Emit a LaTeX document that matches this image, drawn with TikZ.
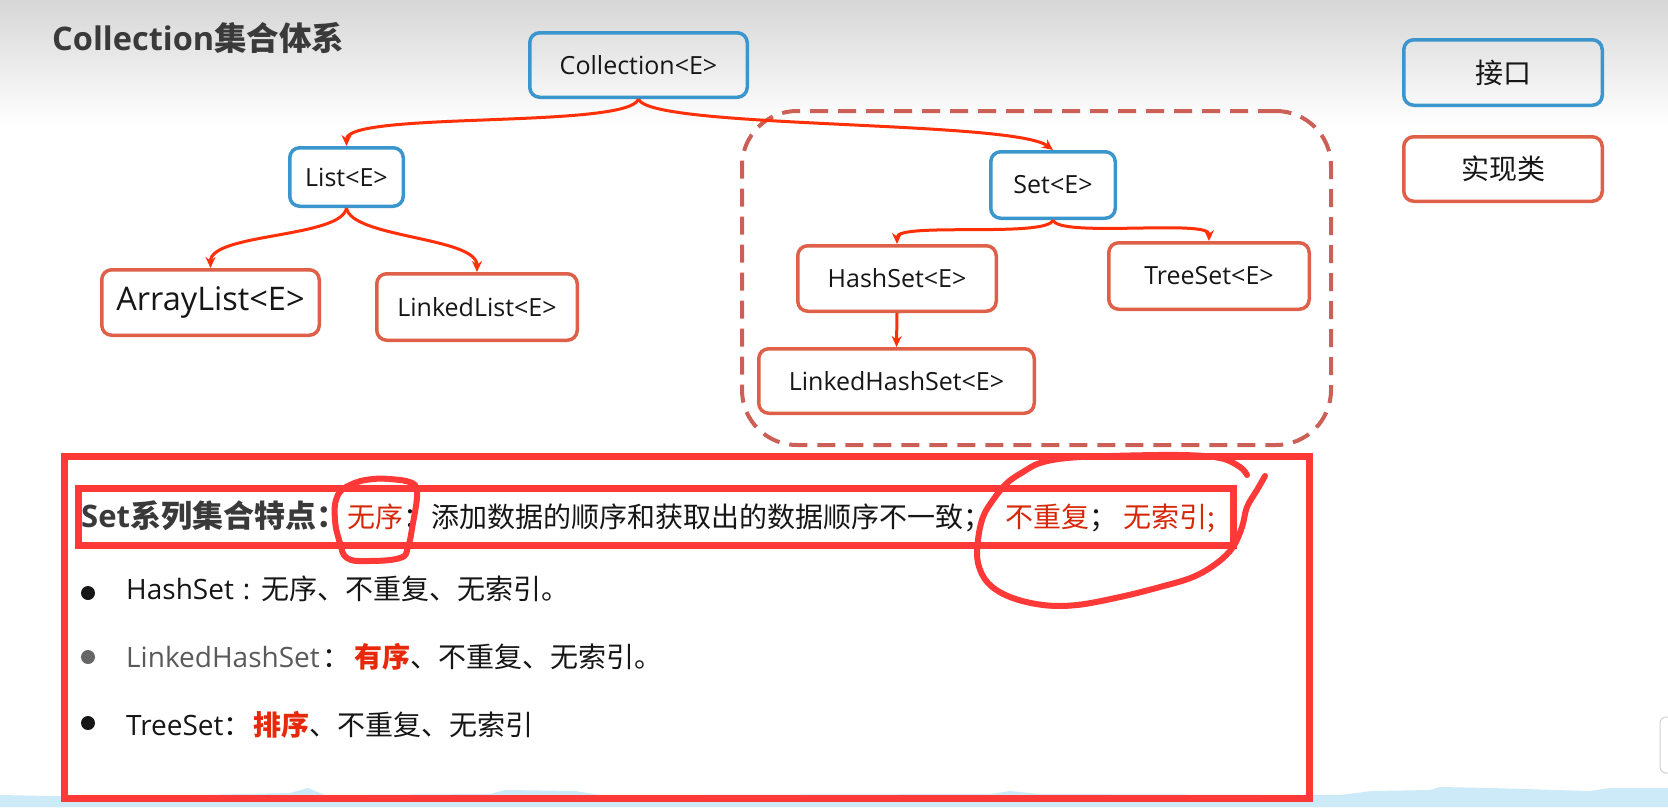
\documentclass[tikz,border=0pt]{standalone}
\usepackage{fontspec}
\setmainfont{Open Sans}
\newfontfamily\zh{Noto Sans CJK SC}
\usetikzlibrary{arrows.meta}
\definecolor{ifblue}{RGB}{58,150,204}
\definecolor{impl}{RGB}{222,96,72}
\definecolor{arr}{RGB}{255,48,8}
\definecolor{grpc}{RGB}{204,96,86}
\definecolor{markc}{RGB}{255,56,56}
\definecolor{hl}{RGB}{214,40,8}
\definecolor{hlb}{RGB}{232,40,10}
\definecolor{ink}{RGB}{22,22,22}
\definecolor{titlegray}{RGB}{58,58,58}
\definecolor{lgray}{RGB}{90,90,90}
\definecolor{waveblue}{RGB}{204,234,247}
\newcommand\zhs[1]{{\zh\fontsize{28}{32}\selectfont #1}}
\begin{document}
\begin{tikzpicture}[x=1pt,y=-1pt,
 box/.style={draw, line width=3.5pt, rounded corners=10pt, inner sep=0pt, text=ink, font=\fontsize{25}{29}\selectfont},
 iface/.style={box, draw=ifblue},
 cls/.style={box, draw=impl},
 conn/.style={draw=arr, line width=3pt, -{Stealth[length=11pt,width=10pt]}},
 grpbox/.style={draw=grpc, line width=4pt, dash pattern=on 18pt off 10pt, rounded corners=55pt, inner sep=0pt},
 redbox/.style={draw=markc, line width=7pt},
 scrib/.style={draw=markc, line width=6pt, line cap=round, line join=round},
 txt/.style={anchor=base west, inner sep=0pt, text=ink},
 bulletdot/.style={circle, inner sep=0pt, minimum size=14pt, fill=#1}
]
\useasboundingbox (0,0) rectangle (1668,807);
\fill[white] (0,0) rectangle (1668,807);
\shade[top color=black!16, bottom color=white] (0,0) rectangle (1668,125);
% bottom waveform strip
\fill[waveblue] (0,807) -- (0,795) -- (100,797) -- (290,793) -- (308,788) -- (325,795) -- (490,794) -- (505,790) -- (575,791) -- (600,795) -- (990,794) -- (1010,791) -- (1040,794) -- (1340,795) -- (1372,791) -- (1430,790) -- (1440,787) -- (1490,788) -- (1590,791) -- (1610,788) -- (1668,788) -- (1668,807) -- cycle;
\draw[black!18, line width=1pt, fill=white, rounded corners=6pt] (1660,717) rectangle (1690,773);

% title
\node[txt, text=titlegray, font=\fontsize{32.5}{36}\selectfont\bfseries] (title) at (52,50) {Collection{\zh 集合体系}};

% group box
\node[grpbox, minimum width=589pt, minimum height=334pt] (grp) at (1036.5,278) {};

% nodes
\node[iface, minimum width=217.5pt, minimum height=64.5pt] (coll) at (638.5,65) {Collection<E>};
\node[iface, minimum width=113.5pt, minimum height=58.5pt] (list) at (346.5,177) {List<E>};
\node[cls, minimum width=217.5pt, minimum height=65.5pt, font=\fontsize{32.5}{37}\selectfont] (al) at (210.5,302.5) {ArrayList<E>};
\node[cls, minimum width=200.5pt, minimum height=66.5pt] (ll) at (477,307) {LinkedList<E>};
\node[iface, minimum width=124.5pt, minimum height=66.5pt] (set) at (1053,185) {Set<E>};
\node[cls, minimum width=198.5pt, minimum height=65.5pt] (hs) at (897,278.5) {HashSet<E>};
\node[cls, minimum width=200.5pt, minimum height=66.5pt] (ts) at (1209,276) {TreeSet<E>};
\node[cls, minimum width=275.5pt, minimum height=64.5pt] (lhs) at (896.5,381) {LinkedHashSet<E>};
\node[iface, minimum width=198.5pt, minimum height=65.5pt, font=\zh\fontsize{28}{32}\selectfont] (leg1) at (1503,72.5) {接口};
\node[cls, minimum width=198.5pt, minimum height=64.5pt, font=\zh\fontsize{28}{32}\selectfont] (leg2) at (1503,169) {实现类};

% connectors
\draw[conn] (coll.south) .. controls +(-10,30) and +(0,-35) .. (list.north);
\draw[conn] (coll.south) .. controls +(10,30) and +(-40,-30) .. (set.north);
\draw[conn] (list.south) .. controls +(-5,30) and +(0,-35) .. (al.north);
\draw[conn] (list.south) .. controls +(5,30) and +(0,-35) .. (ll.north);
\draw[conn] (set.south) .. controls +(-5,18) and +(0,-22) .. (hs.north);
\draw[conn] (set.south) .. controls +(5,18) and +(0,-22) .. (ts.north);
\draw[conn] (hs.south) -- (lhs.north);

% frames
\draw[redbox] (64.5,456.5) rectangle (1309.5,798.5);
\draw[redbox] (78.5,488.5) rectangle (1233.5,545.5);

% header line
\node[txt] (hdr) at (81,527) {{\fontsize{31}{36}\selectfont\bfseries\color{titlegray}Set{\zh 系列集合特点：}}{\zh\fontsize{28}{32}\selectfont{\color{hl}无序}：添加数据的顺序和获取出的数据顺序不一致；\hspace{14pt}{\color{hl}不重复}；\hspace{6pt}{\color{hl}无索引;}}};

% bullets
\node[bulletdot=ink] (b1) at (88,593) {};
\node[bulletdot=black!60] (b2) at (88,657) {};
\node[bulletdot=ink] (b3) at (88,723) {};
\node[txt, font=\fontsize{28}{32}\selectfont] (l1) at (126,599) {HashSet\hspace{9pt}:\hspace{11pt}\zhs{无序、不重复、无索引。}};
\node[txt, font=\fontsize{28}{32}\selectfont] (l2) at (126,667) {{\color{lgray}LinkedHashSet}\hspace{3pt}\zhs{：\hspace{4pt}{\bfseries\color{hlb}有序}、不重复、无索引。}};
\node[txt, font=\fontsize{28}{32}\selectfont] (l3) at (126,735) {TreeSet\zhs{：\hspace{2pt}{\bfseries\color{hlb}排序}、不重复、无索引}};

% hand-drawn marks
\draw[scrib] plot[smooth, tension=0.7] coordinates {(412,483) (400,480) (373,479) (350,485) (337,497) (335,520) (340,543) (347,558) (367,561) (400,558) (408,547) (413,523) (417,497) (415,485) (405,481)};
\draw[scrib] plot[smooth, tension=0.6] coordinates {(1265,476) (1257,490) (1247,507) (1242,527) (1233,547) (1217,563) (1193,577) (1160,587) (1120,597) (1077,605) (1043,605) (1010,597) (988,583) (978,563) (978,540) (983,517) (993,500) (1007,483) (1023,472) (1040,463) (1067,458) (1110,456) (1180,455) (1220,458) (1240,467) (1247,475)};
\end{tikzpicture}
\end{document}
